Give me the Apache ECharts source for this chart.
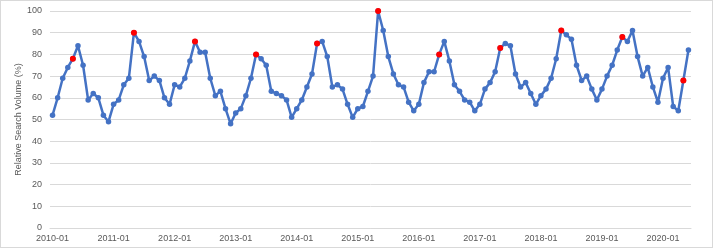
<!DOCTYPE html>
<html>
<head>
<meta charset="utf-8">
<script src="https://cdn.jsdelivr.net/npm/echarts@6/dist/echarts.min.js"></script>
<style>
html,body{margin:0;padding:0;background:#fff;}
#wrap{position:absolute;left:0;top:0;width:711px;height:246px;border:1px solid #d9d9d9;}
#chart{width:711px;height:246px;}
</style>
</head>
<body>
<div id="wrap"><div id="chart"></div></div>
<script>
// Monthly categories 2010-01 .. 2020-06
const months = [];
for (let y = 2010; y <= 2020; y++) {
  for (let m = 1; m <= 12; m++) {
    if (y === 2020 && m > 6) break;
    months.push(y + '-' + (m < 10 ? '0' + m : m));
  }
}
const v2010 = [52,60,69,74,78,84,75,59,62,60,52,49];
const v2011 = [57,59,66,69,90,86,79,68,70,68,60,57];
const v2012 = [66,65,69,77,86,81,81,69,61,63,55,48];
const v2013 = [53,55,61,69,80,78,75,63,62,61,59,51];
const v2014 = [55,59,65,71,85,86,79,65,66,64,57,51];
const v2015 = [55,56,63,70,100,91,79,71,66,65,58,54];
const v2016 = [57,67,72,72,80,86,77,66,63,59,58,54];
const v2017 = [57,64,67,72,83,85,84,71,65,67,62,57];
const v2018 = [61,64,69,78,91,89,87,75,68,70,64,59];
const v2019 = [64,70,75,82,88,86,91,79,70,74,65,58];
const v2020 = [69,74,56,54,68,82];
const values = [].concat(v2010,v2011,v2012,v2013,v2014,v2015,v2016,v2017,v2018,v2019,v2020);
const highlighted = ['2010-05','2011-05','2012-05','2013-05','2014-05','2015-05','2016-05','2017-05','2018-05','2019-05','2020-05'];
const yTicks = {min:0, max:100, interval:10};

const redData = months.map((m, i) => highlighted.indexOf(m) >= 0 ? values[i] : null);

const chart = echarts.init(document.getElementById('chart'), null, {renderer:'canvas'});
const font = 'Liberation Sans';
chart.setOption({
  animation:false,
  grid:{left:49, right:21, top:10, bottom:19, containLabel:false},
  xAxis:{
    type:'category', data:months, boundaryGap:true,
    axisLine:{show:true, lineStyle:{color:'#d9d9d9', width:1}},
    axisTick:{show:false},
    axisLabel:{interval:11, color:'#595959', fontSize:9, fontFamily:font, margin:6},
    splitLine:{show:false}
  },
  yAxis:{
    type:'value', min:yTicks.min, max:yTicks.max, interval:yTicks.interval,
    name:'Relative Search Volume (%)', nameLocation:'middle', nameGap:27, nameMoveOverlap:false,
    nameTextStyle:{color:'#595959', fontSize:9, fontFamily:font},
    axisLine:{show:false}, axisTick:{show:false},
    axisLabel:{color:'#595959', fontSize:9, fontFamily:font, margin:8},
    splitLine:{lineStyle:{color:'#d9d9d9', width:1}}
  },
  series:[
    {type:'line', data:values, symbol:'circle', symbolSize:5.5, showSymbol:true, showAllSymbol:true,
     lineStyle:{color:'#4472C4', width:2.5}, itemStyle:{color:'#4472C4'}, z:2},
    {type:'scatter', data:redData, symbol:'circle', symbolSize:6,
     itemStyle:{color:'#FF0000', opacity:1}, z:3}
  ]
});
</script>
</body>
</html>
